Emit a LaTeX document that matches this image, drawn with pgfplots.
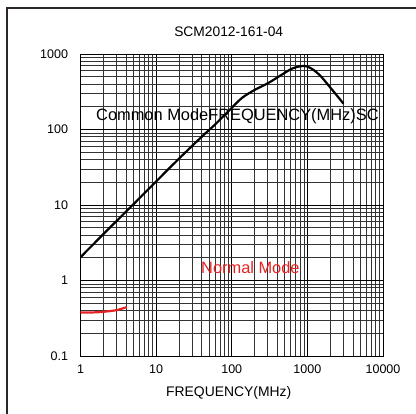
\documentclass[border=0pt]{standalone}
\usepackage{fontspec}
\setmainfont{Liberation Sans}
\usepackage{pgfplots}
\pgfplotsset{compat=1.18}
\definecolor{nmred}{RGB}{230,35,35}
\definecolor{framegray}{RGB}{45,38,38}

\begin{document}
\begin{tikzpicture}[x=1pt,y=1pt]
\useasboundingbox (0,0) rectangle (416,414);
\draw[framegray, line width=1.4pt] (7,0) -- (7,406) -- (416,406);
\begin{axis}[
  at={(80.5pt,58pt)}, anchor=south west,
  scale only axis, width=302.5pt, height=302pt,
  xmode=log, ymode=log,
  xmin=1, xmax=10000, ymin=0.1, ymax=1000,
  xtick={1,10,100,1000,10000}, xticklabels={1,10,100,1000,10000},
  ytick={0.1,1,10,100,1000}, yticklabels={0.1,1,10,100,1000},
  major tick length=0pt, minor tick length=0pt,
  grid=both,
  major grid style={black, line width=0.8pt},
  minor grid style={black!80, line width=0.7pt},
  axis line style={black, line width=0.9pt},
  tick label style={font=\fontsize{12.5}{14}\selectfont},
  xticklabel style={yshift=-5pt},
  yticklabel style={xshift=-9pt},
  title={SCM2012-161-04},
  title style={font=\fontsize{13.8}{16}\selectfont, at={(rel axis cs:0.49,1)}, anchor=base, yshift=11.8pt},
  xlabel={FREQUENCY(MHz)},
  xlabel style={font=\fontsize{13.9}{16}\selectfont, at={(rel axis cs:0.49,0)}, anchor=base, yshift=-40.7pt},
]
% common mode
\addplot[black, line width=2.2pt, smooth] coordinates {
  (1,2.03) (2,4.1) (5,10.2) (10,20.5) (20,41) (40,80) (60,116) (90,174)
  (136,261) (203,336) (305,413) (459,532) (622,638) (800,687) (900,695)
  (1000,682) (1200,618) (1500,510) (1806,409) (2400,290) (3000,220)
};
% normal mode
\addplot[nmred, line width=2.2pt, smooth] coordinates {
  (1,0.376) (1.5,0.378) (2,0.385) (3,0.405) (4.1,0.445)
};
\end{axis}
\node[anchor=base west, inner sep=0pt, font=\fontsize{16.4}{18}\selectfont] at (96,293.1) {Common ModeFREQUENCY(MHz)SC};
\node[anchor=base west, inner sep=0pt, text=nmred, font=\fontsize{16.4}{18}\selectfont] at (201,140.4) {Normal Mode};
\end{tikzpicture}
\end{document}
